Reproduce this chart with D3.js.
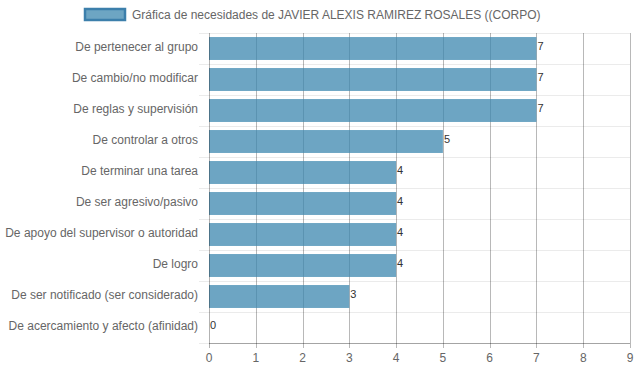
<!DOCTYPE html>
<html>
<head>
<meta charset="utf-8">
<script src="https://cdn.jsdelivr.net/npm/d3@7"></script>
<style>
  body { margin: 0; background: #fff; }
  svg { font-family: "Liberation Sans", Arial, sans-serif; }
</style>
</head>
<body>
<div id="chart"></div>
<script>
// datos de la gráfica
const titulo = 'Gráfica de necesidades de JAVIER ALEXIS RAMIREZ ROSALES ((CORPO)';
const categorias = [
  'De pertenecer al grupo',
  'De cambio/no modificar',
  'De reglas y supervisión',
  'De controlar a otros',
  'De terminar una tarea',
  'De ser agresivo/pasivo',
  'De apoyo del supervisor o autoridad',
  'De logro',
  'De ser notificado (ser considerado)',
  'De acercamiento y afecto (afinidad)'
];
const valores = [7, 7, 7, 5, 4, 4, 4, 4, 3, 0];
const ticksX = [0, 1, 2, 3, 4, 5, 6, 7, 8, 9];

function crearGrafica(containerId) {
  const W = 637, H = 371;
  const margin = {top: 33, right: 7, bottom: 28, left: 209};
  const width = W - margin.left - margin.right;
  const height = H - margin.top - margin.bottom;
  const colorBarra = 'rgba(60,135,175,0.75)';

  const svg = d3.select(`#${containerId}`)
    .append('svg')
    .attr('width', W)
    .attr('height', H);

  // leyenda / título
  svg.append('rect')
    .attr('x', 85).attr('y', 9)
    .attr('width', 40).attr('height', 11)
    .attr('fill', colorBarra)
    .attr('stroke', '#3c7fab')
    .attr('stroke-width', 2.5);
  svg.append('text')
    .attr('x', 132).attr('y', 19)
    .style('font-size', '12px')
    .style('fill', '#666')
    .text(titulo);

  const g = svg.append('g')
    .attr('transform', `translate(${margin.left},${margin.top})`);

  const x = d3.scaleLinear().domain([0, 9]).range([0, width]);
  const y = d3.scaleBand().domain(categorias).range([0, height]);

  // líneas horizontales entre categorías
  g.append('g')
    .selectAll('line')
    .data(d3.range(categorias.length + 1))
    .enter()
    .append('line')
    .attr('x1', -10).attr('x2', width)
    .attr('y1', i => Math.round(i * y.step()) + 0.5)
    .attr('y2', i => Math.round(i * y.step()) + 0.5)
    .attr('stroke', '#ebebeb')
    .attr('stroke-width', 1);

  // líneas verticales
  g.append('g')
    .selectAll('line')
    .data(ticksX.slice(1))
    .enter()
    .append('line')
    .attr('x1', d => Math.round(x(d)) + 0.5)
    .attr('x2', d => Math.round(x(d)) + 0.5)
    .attr('y1', 0).attr('y2', height + 5)
    .attr('stroke', 'rgba(0,0,0,0.28)')
    .attr('stroke-width', 1);

  // barras
  const bandH = y.step() * 0.74;
  g.selectAll('.bar')
    .data(valores)
    .enter()
    .append('rect')
    .attr('class', 'bar')
    .attr('x', 0)
    .attr('y', (d, i) => y(categorias[i]) + (y.step() - bandH) / 2)
    .attr('width', d => x(d))
    .attr('height', bandH)
    .attr('fill', colorBarra);

  // etiquetas de valor
  g.selectAll('.value-label')
    .data(valores)
    .enter()
    .append('text')
    .attr('class', 'value-label')
    .attr('x', d => x(d) + 1)
    .attr('y', (d, i) => y(categorias[i]) + y.step() / 2 + 1.5)
    .style('font-size', '11px')
    .style('fill', '#333')
    .text(d => d);

  // eje y
  g.append('line')
    .attr('x1', 0.5).attr('x2', 0.5)
    .attr('y1', 0).attr('y2', height + 5)
    .attr('stroke', 'rgba(0,0,0,0.3)');
  g.append('g')
    .selectAll('text')
    .data(categorias)
    .enter()
    .append('text')
    .attr('x', -11)
    .attr('y', d => y(d) + y.step() / 2 + 2.5)
    .attr('text-anchor', 'end')
    .style('font-size', '12px')
    .style('fill', '#666')
    .text(d => d);

  // eje x
  g.append('line')
    .attr('x1', 0).attr('x2', width)
    .attr('y1', height + 0.5).attr('y2', height + 0.5)
    .attr('stroke', 'rgba(0,0,0,0.3)');
  g.append('g')
    .selectAll('text')
    .data(ticksX)
    .enter()
    .append('text')
    .attr('x', d => x(d))
    .attr('y', height + 19)
    .attr('text-anchor', 'middle')
    .style('font-size', '12px')
    .style('fill', '#666')
    .text(d => d);
}

crearGrafica('chart');
</script>
</body>
</html>
